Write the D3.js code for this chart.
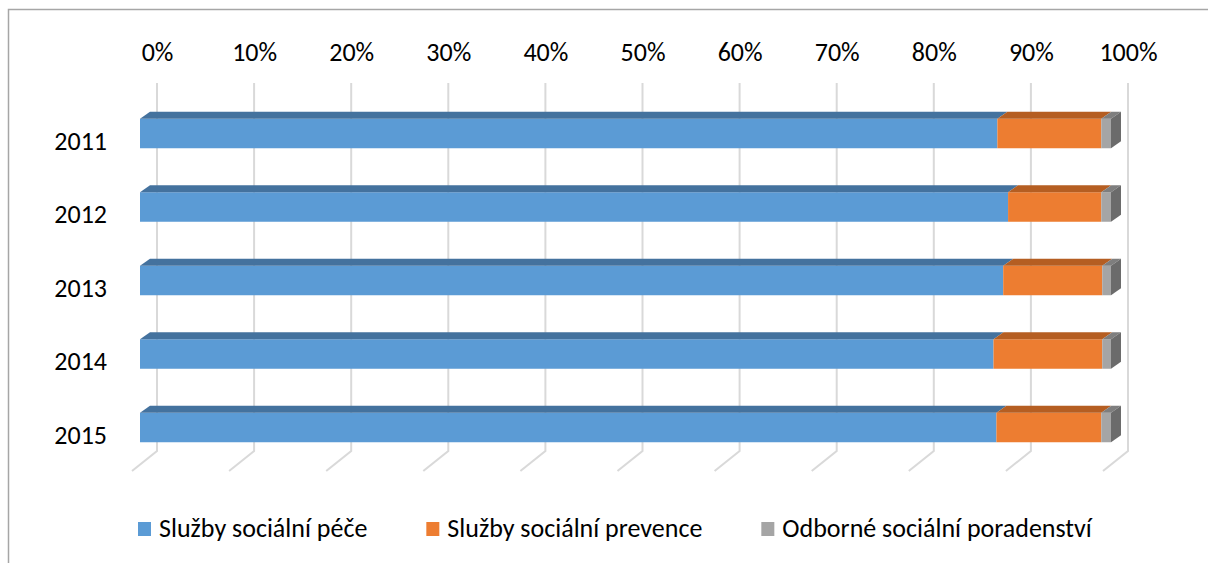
<!DOCTYPE html>
<html>
<head>
<meta charset="utf-8">
<script src="https://cdn.jsdelivr.net/npm/d3@7/dist/d3.min.js"></script>
<style>
  html, body { margin: 0; padding: 0; background: #ffffff; }
  svg { display: block; }
  text { font-family: Carlito, Lato, "Open Sans", sans-serif; fill: #000; }
</style>
</head>
<body>
<svg id="chart" width="1208" height="563"></svg>
<script>
// ---- data (percent shares) ----
const years = ["2011", "2012", "2013", "2014", "2015"];
const seriesNames = ["Služby sociální péče", "Služby sociální prevence", "Odborné sociální poradenství"];
const pece = [88.3, 89.4, 88.9, 87.9, 88.2];
const prevence = [10.7, 9.6, 10.2, 11.2, 10.8];
const poradenstvi = [1.0, 1.0, 0.9, 0.9, 1.0];
const tickValues = [0, 0.1, 0.2, 0.3, 0.4, 0.5, 0.6, 0.7, 0.8, 0.9, 1.0];

// ---- styles ----
const frontColors = ["#5B9BD5", "#ED7D31", "#A5A5A5"];
const topColors = ["#44729E", "#B55E22", "#7E7E7E"];
const sideColors = ["#3E6A93", "#A9561F", "#6B6B6B"];
const fontSize = 26;

const svg = d3.select("#chart");
const W = 1208, H = 563;

svg.append("rect").attr("x", 0).attr("y", 0).attr("width", W).attr("height", H).attr("fill", "#fff");
// chart area border (extends beyond right/bottom)
svg.append("rect")
  .attr("x", 8.5).attr("y", 9.5).attr("width", 1400).attr("height", 800)
  .attr("fill", "none").attr("stroke", "#a6a6a6").attr("stroke-width", 1.5);

const table = years.map((y, i) => ({ year: y, s0: pece[i], s1: prevence[i], s2: poradenstvi[i] }));
const stack = d3.stack().keys(["s0", "s1", "s2"]).offset(d3.stackOffsetExpand);
const layers = stack(table);

// back wall scale (gridlines & tick labels) and front plane scale (bars)
const xBack = d3.scaleLinear().domain([0, 1]).range([157, 1128]);
const xFront = d3.scaleLinear().domain([0, 1]).range([140, 1111]);
const y = d3.scalePoint().domain(years).range([133.5, 427.5]);

const barH = 29.5, depthX = 10, depthY = -7;
const floorDX = -25, floorDY = 20;
const wallTop = 83, wallBottom = 451;

// gridlines: back wall vertical + floor diagonal
svg.append("g").selectAll("path")
  .data(tickValues)
  .join("path")
  .attr("d", t => `M${xBack(t)},${wallTop}V${wallBottom}L${xBack(t) + floorDX},${wallBottom + floorDY}`)
  .attr("fill", "none")
  .attr("stroke", "#d9d9d9")
  .attr("stroke-width", 2);

// top value axis labels
const xAxis = d3.axisTop(xBack).tickValues(tickValues).tickFormat(d3.format(".0%")).tickSize(0).tickPadding(0);
const gx = svg.append("g").attr("transform", `translate(0,61)`).call(xAxis);
gx.select(".domain").remove();
gx.selectAll("text").attr("font-size", fontSize).attr("font-family", null).attr("dy", 0);

// category axis labels
const yAxis = d3.axisLeft(y).tickSize(0).tickPadding(0);
const gy = svg.append("g").attr("transform", `translate(107,15.5)`).call(yAxis);
gy.select(".domain").remove();
gy.selectAll("text").attr("font-size", fontSize).attr("font-family", null).attr("dy", 0);

// bars (3D stacked)
const gBars = svg.append("g");
layers.forEach((layer, li) => {
  const g = gBars.append("g");
  layer.forEach(d => {
    const x0 = xFront(d[0]), x1 = xFront(d[1]);
    const top = y(d.data.year) - barH / 2, bottom = top + barH;
    g.append("rect")
      .attr("x", x0).attr("y", top).attr("width", x1 - x0).attr("height", barH)
      .attr("fill", frontColors[li]);
    g.append("path")
      .attr("d", `M${x0},${top}L${x1},${top}L${x1 + depthX},${top + depthY}L${x0 + depthX},${top + depthY}Z`)
      .attr("fill", topColors[li]);
    if (li === layers.length - 1) {
      g.append("path")
        .attr("d", `M${x1},${top}L${x1 + depthX},${top + depthY}L${x1 + depthX},${bottom + depthY}L${x1},${bottom}Z`)
        .attr("fill", sideColors[li]);
    }
  });
});

// legend
const legend = svg.append("g").attr("transform", "translate(0,537)");
let lx = 138;
seriesNames.forEach((name, i) => {
  const item = legend.append("g").attr("transform", `translate(${lx},0)`);
  item.append("rect").attr("x", 0).attr("y", -15).attr("width", 13).attr("height", 14).attr("fill", frontColors[i]);
  const t = item.append("text").attr("x", 21).attr("y", 0).attr("font-size", fontSize).text(name);
  lx += 21 + t.node().getComputedTextLength() + 59;
});
</script>
</body>
</html>
